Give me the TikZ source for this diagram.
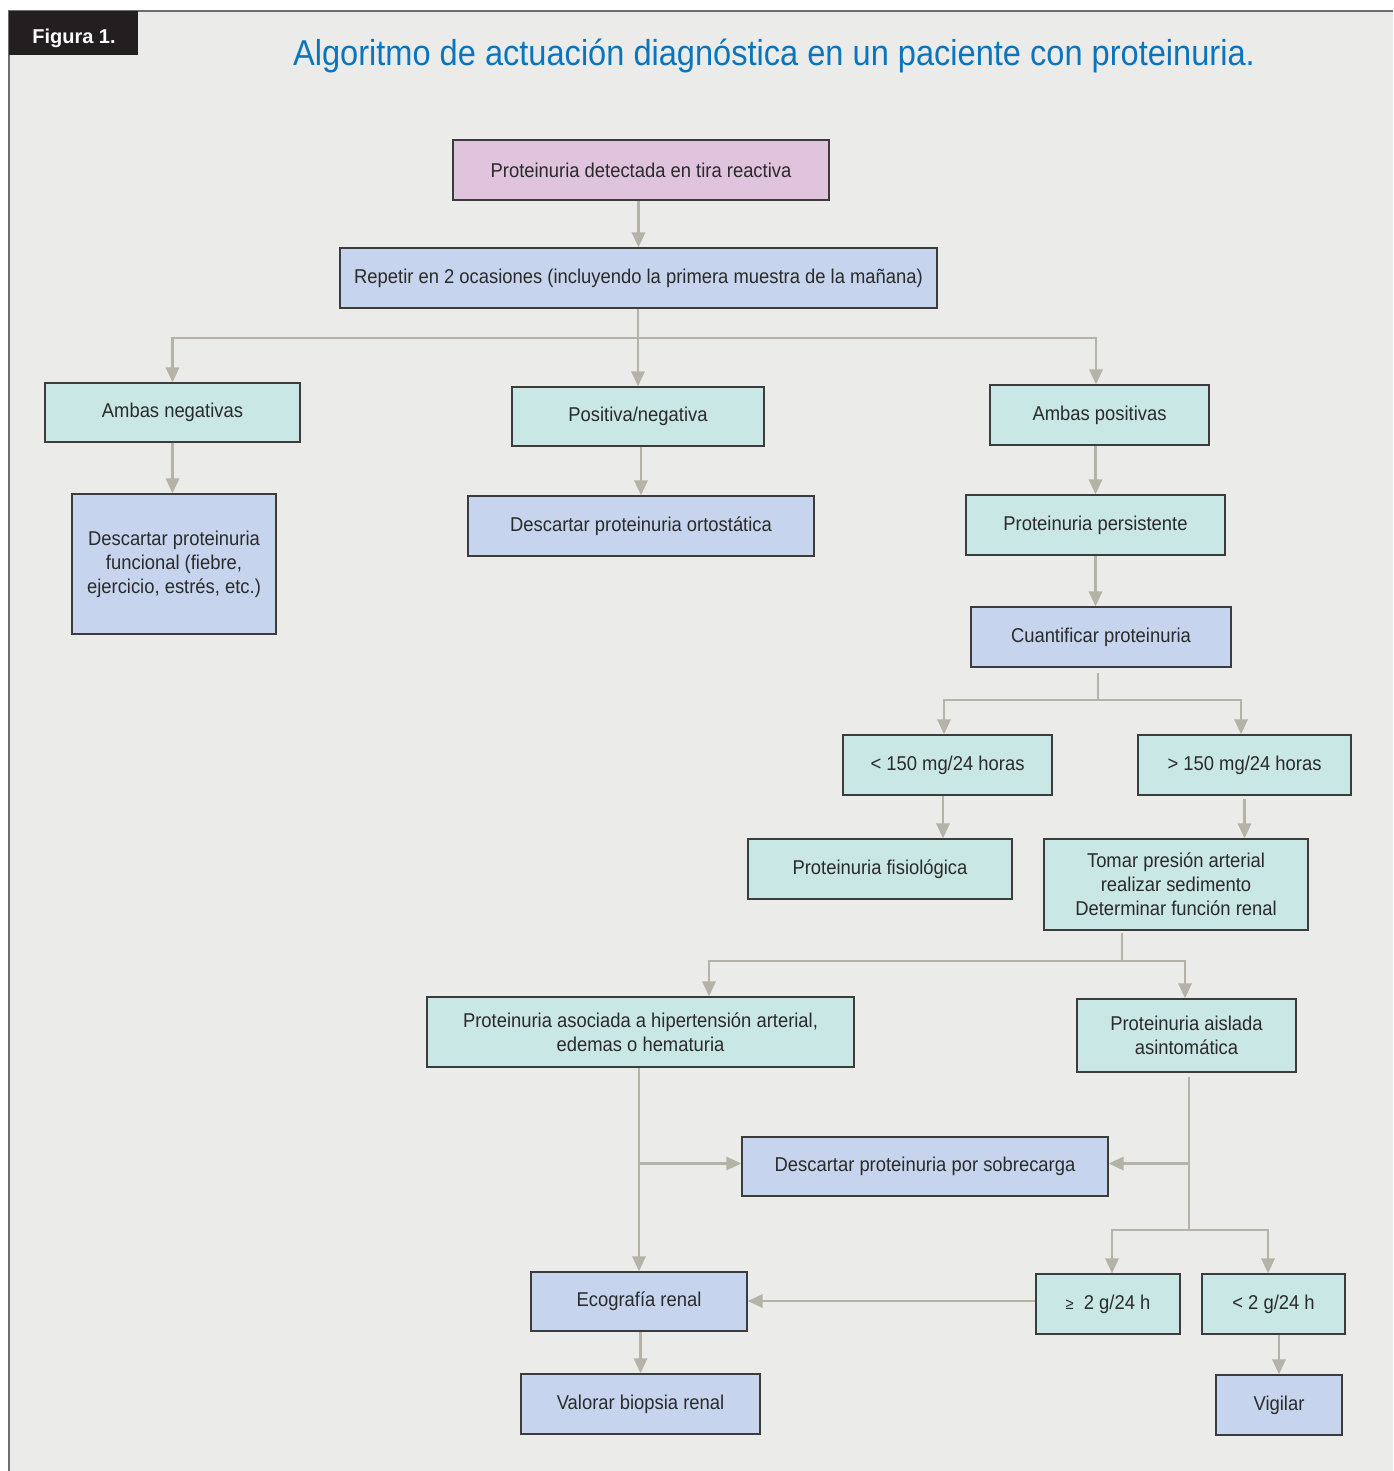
\documentclass[tikz,border=0pt]{standalone}
\usepackage{fontspec}
\setmainfont{Liberation Sans}
\newfontfamily\condfont[FakeStretch=0.92]{Liberation Sans}
\newfontfamily\titlefont[FakeStretch=0.905]{Liberation Sans}
\usetikzlibrary{arrows.meta,calc}
\definecolor{bgc}{HTML}{EBEBE9}
\definecolor{pinkc}{HTML}{E0C3DD}
\definecolor{bluec}{HTML}{C6D4EE}
\definecolor{tealc}{HTML}{C9E8E5}
\definecolor{linec}{HTML}{B5B2A8}
\definecolor{bordc}{HTML}{3C3C3C}
\definecolor{titlec}{HTML}{0A75BC}
\definecolor{blackc}{HTML}{231F20}
\definecolor{txtc}{HTML}{2A2A2A}
\definecolor{framec}{HTML}{6E6E6E}
\begin{document}
\begin{tikzpicture}[x=1pt,y=-1pt,
  box/.style={draw=bordc, line width=1.1pt, text=txtc, font=\condfont\fontsize{20}{24}\selectfont, align=center, inner sep=0pt},
  pinkbox/.style={box, fill=pinkc},
  bluebox/.style={box, fill=bluec},
  tealbox/.style={box, fill=tealc},
  conn/.style={draw=linec, line width=2.8pt},
  arr/.style={conn, -{Triangle[length=15pt,width=13pt]}}]
\useasboundingbox (0,0) rectangle (1393,1471);
\fill[white] (0,0) rectangle (1393,1471);
\fill[bgc] (9,11) rectangle (1393,1471);
\draw[framec, line width=1.4pt] (9,1471) -- (9,11) -- (1393,11);
\node[fill=blackc, minimum width=129pt, minimum height=44pt, inner sep=0pt, anchor=north west] (fig) at (9,11) {};
\node[text=white, font=\bfseries\fontsize{20}{22}\selectfont, anchor=base] (figlabel) at (74,44) {Figura 1.};
\node[text=titlec, font=\titlefont\fontsize{36}{40}\selectfont, anchor=base] (title) at (774,66) {Algoritmo de actuación diagnóstica en un paciente con proteinuria.};

\node[pinkbox, minimum width=376pt, minimum height=60pt] (n1) at (641,170) {Proteinuria detectada en tira reactiva};
\node[bluebox, minimum width=597pt, minimum height=60pt] (n2) at (638.5,278) {Repetir en 2 ocasiones (incluyendo la primera muestra de la mañana)};
\node[tealbox, minimum width=255pt, minimum height=59pt] (n3) at (172.5,412.5) {Ambas negativas};
\node[tealbox, minimum width=252pt, minimum height=59pt] (n4) at (638,416.5) {Positiva/negativa};
\node[tealbox, minimum width=219pt, minimum height=60pt] (n5) at (1099.5,415) {Ambas positivas};
\node[bluebox, minimum width=204pt, minimum height=140pt] (n6) at (174,564) {Descartar proteinuria\\funcional (fiebre,\\ejercicio, estrés, etc.)};
\node[bluebox, minimum width=346pt, minimum height=60pt] (n7) at (641,526) {Descartar proteinuria ortostática};
\node[tealbox, minimum width=259pt, minimum height=60pt] (n8) at (1095.5,525) {Proteinuria persistente};
\node[bluebox, minimum width=260pt, minimum height=60pt] (n9) at (1101,637) {Cuantificar proteinuria};
\node[tealbox, minimum width=209pt, minimum height=60pt] (n10) at (947.5,765) {< 150 mg/24 horas};
\node[tealbox, minimum width=213pt, minimum height=60pt] (n11) at (1244.5,765) {> 150 mg/24 horas};
\node[tealbox, minimum width=264pt, minimum height=60pt] (n12) at (880,869) {Proteinuria fisiológica};
\node[tealbox, minimum width=264pt, minimum height=91pt] (n13) at (1176,884.5) {Tomar presión arterial\\realizar sedimento\\Determinar función renal};
\node[tealbox, minimum width=427pt, minimum height=70pt] (n14) at (640.5,1032) {Proteinuria asociada a hipertensión arterial,\\edemas o hematuria};
\node[tealbox, minimum width=219pt, minimum height=73pt] (n15) at (1186.5,1035.5) {Proteinuria aislada\\asintomática};
\node[bluebox, minimum width=366pt, minimum height=59pt] (n16) at (925,1166.5) {Descartar proteinuria por sobrecarga};
\node[bluebox, minimum width=216pt, minimum height=59pt] (n17) at (639,1301.5) {Ecografía renal};
\node[tealbox, minimum width=144pt, minimum height=60pt] (n18) at (1108,1304) {{\fontsize{16}{24}\selectfont ≥}\ \ 2 g/24 h};
\node[tealbox, minimum width=143pt, minimum height=60pt] (n19) at (1273.5,1304) {< 2 g/24 h};
\node[bluebox, minimum width=239pt, minimum height=60pt] (n20) at (640.5,1404) {Valorar biopsia renal};
\node[bluebox, minimum width=126pt, minimum height=60pt] (n21) at (1279,1405) {Vigilar};

% connectors
\draw[arr] (n2.north |- n1.south) -- (n2.north);
\coordinate (b2) at (638,338);
\draw[conn] (n2.south -| b2) -- (b2);
\draw[conn] (n3.north |- b2) -- ([xshift=-3.5pt]n5.north |- b2);
\draw[arr] (b2) -| (n3.north);
\draw[arr] (b2) -- (b2 |- n4.north);
\draw[arr] (b2) -| ([xshift=-3.5pt]n5.north);
\draw[arr] (n3.south) -- (n3.south |- n6.north);
\draw[arr] (n7.north |- n4.south) -- (n7.north);
\draw[arr] (n8.north |- n5.south) -- (n8.north);
\draw[arr] (n8.south) -- (n8.south |- n9.north);

\coordinate (b9) at (1098,700);
\draw[conn] ($(n9.south -| b9)+(0,5)$) -- (b9);
\draw[conn] ([xshift=-3.5pt]n10.north |- b9) -- ([xshift=-3.5pt]n11.north |- b9);
\draw[arr] (b9) -| ([xshift=-3.5pt]n10.north);
\draw[arr] (b9) -| ([xshift=-3.5pt]n11.north);
\draw[arr] ([xshift=-4.5pt]n10.south) -- ([xshift=-4.5pt]n10.south |- n12.north);
\draw[arr] ($(n11.south)+(0,3)$) -- (n11.south |- n13.north);

\coordinate (b13) at (1122,961);
\draw[conn] ($(n13.south -| b13)+(0,2)$) -- (b13);
\draw[conn] ([xshift=68.5pt]n14.north |- b13) -- ([xshift=-1.5pt]n15.north |- b13);
\draw[arr] (b13) -| ([xshift=68.5pt]n14.north);
\draw[arr] (b13) -| ([xshift=-1.5pt]n15.north);

\draw[arr] (n17.north |- n14.south) -- (n17.north);
\coordinate (j14) at ($(n17.north |- n16.west)+(0,-3)$);
\draw[arr] (j14) -- (j14 -| n16.west);

\coordinate (b15) at (1189,1230);
\draw[conn] ($(n15.south -| b15)+(0,4)$) -- (b15);
\coordinate (j15) at ($(b15 |- n16.east)+(0,-3)$);
\draw[arr] (j15) -- (j15 -| n16.east);
\draw[conn] ([xshift=4pt]n18.north |- b15) -- ([xshift=-5.5pt]n19.north |- b15);
\draw[arr] (b15) -| ([xshift=4pt]n18.north);
\draw[arr] (b15) -| ([xshift=-5.5pt]n19.north);
\coordinate (j18) at ($(n18.west)+(0,-3)$);
\draw[arr] (j18) -- (j18 -| n17.east);
\draw[arr] (n20.north |- n17.south) -- (n20.north);
\draw[arr] (n21.north |- n19.south) -- (n21.north);
\end{tikzpicture}
\end{document}
